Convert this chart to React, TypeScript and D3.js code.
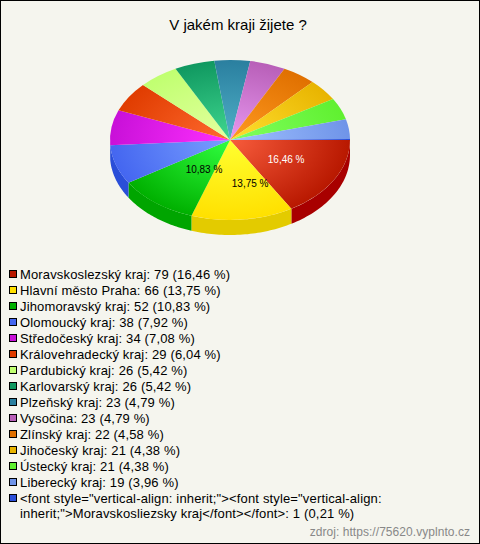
import React from "react";
import * as d3 from "d3";

const title = "V jakém kraji žijete ?";
const categories = ["Moravskoslezský kraj","Hlavní město Praha","Jihomoravský kraj","Olomoucký kraj","Středočeský kraj","Královehradecký kraj","Pardubický kraj","Karlovarský kraj","Plzeňský kraj","Vysočina","Zlínský kraj","Jihočeský kraj","Ústecký kraj","Liberecký kraj","<font style=\"vertical-align: inherit;\"><font style=\"vertical-align: inherit;\">Moravskosliezsky kraj</font></font>"];
const counts = [79,66,52,38,34,29,26,26,23,23,22,21,21,19,1];
const percents = ["16,46","13,75","10,83","7,92","7,08","6,04","5,42","5,42","4,79","4,79","4,58","4,38","4,38","3,96","0,21"];
const edgeColors = ["#b81800","#ffe000","#00b000","#4466f0","#c810d8","#e03c00","#c0ff70","#109860","#2a7f9f","#b85fb8","#e07000","#e8b400","#60f030","#6f94e8","#2a4ed8"];
const centerColors = ["#f85c3c","#ffff30","#30ff40","#7aa0ff","#ff30ff","#ff6a30","#e4ffa0","#40d890","#50b0c8","#e898f0","#ff9a20","#ffe030","#80ff60","#a0c0ff","#4466f0"];
const sideColors = ["#a80000","#e3cb00","#00a500","#2a4ed8","#2a4ed8","#c03000","#a0d860","#0c8050","#206c88","#9c4c9c","#c06000","#c89c00","#50cc28","#5c7cc8","#2040b0"];
const labelAngles = [28,73,120];
const labelRadii = [0.53,0.575,0.433];
const labelColors = ["#ffffff","#000000","#000000"];

const W = 480, H = 544;
const cx = 230, cy = 140, rx = 120, ry = 80, depth = 15;
const font = "'Liberation Sans', Arial, sans-serif";

export default function App() {
  const pie = d3.pie<number>().value(d => d).sort(null).startAngle(Math.PI / 2).endAngle(Math.PI * 2.5);
  const arcs = pie(counts);
  const arc = d3.arc<d3.PieArcDatum<number>>().innerRadius(0).outerRadius(1);
  const sx = d3.scaleLinear().domain([-1, 1]).range([cx - rx, cx + rx]);
  const sy = d3.scaleLinear().domain([-1, 1]).range([cy - ry, cy + ry]);

  const sidePath = (a0: number, a1: number) => {
    const s = Math.max(a0, Math.PI / 2), e = Math.min(a1, Math.PI * 1.5);
    if (e <= s) return null;
    const ts = d3.range(0, 41).map(i => s + (e - s) * i / 40);
    const pts: [number, number][] = ts.map(t => [sx(Math.sin(t)), sy(-Math.cos(t))]);
    const low: [number, number][] = pts.slice().reverse().map(p => [p[0], p[1] + depth]);
    return d3.line()([...pts, ...low]) + "Z";
  };

  const rowY = d3.scaleLinear().domain([0, 1]).range([274, 290]);
  const lastName = categories[14];
  const breakAt = lastName.indexOf("vertical-align: ", 30) + "vertical-align:".length;
  const legendText = { fontSize: 13, letterSpacing: 0.15, fill: "#000" };
  return (
    <svg width={W} height={H} style={{ position: "fixed", left: 0, top: 0 }} fontFamily={font}>
      <defs>
        {arcs.map((_, i) => (
          <radialGradient key={i} id={"g" + i} gradientUnits="userSpaceOnUse" cx={0} cy={0} r={1}>
            <stop offset="0" stopColor={centerColors[i]} />
            <stop offset="1" stopColor={edgeColors[i]} />
          </radialGradient>
        ))}
      </defs>
      <rect x={0.5} y={0.5} width={W - 1} height={H - 1} fill="#f5f5ee" stroke="#000" />
      <text x={238} y={30} textAnchor="middle" fontSize={15} fill="#000">{title}</text>
      {arcs.map((a, i) => {
        const d = sidePath(a.startAngle, a.endAngle);
        return d ? <path key={i} d={d} fill={sideColors[i]} /> : null;
      })}
      <g transform={`translate(${cx},${cy}) scale(${rx},${ry})`}>
        {arcs.map((a, i) => <path key={i} d={arc(a) as string} fill={`url(#g${i})`} />)}
      </g>
      {labelRadii.map((r, i) => {
        const m = labelAngles[i] * Math.PI / 180;
        return (
          <text key={i} x={sx(Math.cos(m) * r)} y={sy(Math.sin(m) * r) + 3.5} textAnchor="middle" fontSize={10} fill={labelColors[i]}>
            {percents[i] + " %"}
          </text>
        );
      })}
      {categories.map((c, i) => {
        const y = rowY(i);
        const s = `: ${counts[i]} (${percents[i]} %)`;
        return (
          <g key={i}>
            <rect x={9.5} y={y - 3.5} width={7} height={7} fill={edgeColors[i]} stroke="#000" strokeWidth={1} />
            {i === 14 ? (
              <>
                <text x={20} y={y + 4.5} {...legendText}>{c.slice(0, breakAt)}</text>
                <text x={20} y={y + 19.5} {...legendText}>{c.slice(breakAt + 1) + s}</text>
              </>
            ) : (
              <text x={20} y={y + 4.5} {...legendText}>{c + s}</text>
            )}
          </g>
        );
      })}
      <text x={470} y={536} textAnchor="end" fontSize={12} letterSpacing={0.05} fill="#888888">zdroj: https://75620.vyplnto.cz</text>
    </svg>
  );
}
